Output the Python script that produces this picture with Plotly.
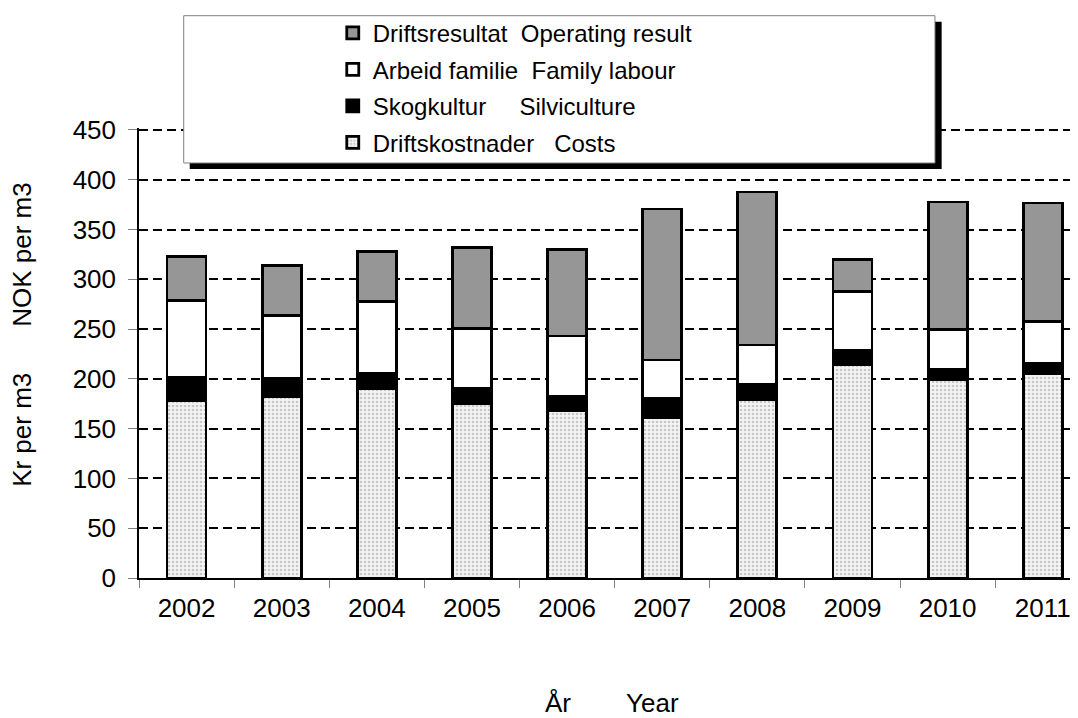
import plotly.graph_objects as go

years = ["2002", "2003", "2004", "2005", "2006", "2007", "2008", "2009", "2010", "2011"]

# NOK per m3, stacked from bottom
costs = [178, 182, 190, 175, 168, 161, 179, 214.5, 199, 205]
silviculture = [23.5, 18, 15.5, 15.5, 14.5, 19, 15.5, 14.5, 11, 11]
family_labour = [77.5, 64, 72.5, 60, 60.5, 39, 39.5, 58.5, 39.5, 41.7]
operating_result = [44, 50, 50, 81.5, 87, 151.6, 153.7, 32.5, 128.2, 119]

FONT = "Arial, Liberation Sans, sans-serif"

OFF = 8  # the page body has an 8px margin
YMAX = 452
# plot area in page pixels
L, R, B = 139.3, 1078, 578.3
T = B - YMAX * 448 / 450
W, H = R - L, B - T


def px(x):
    return (x - L) / W


def py(y):
    return (B - y) / H


line = dict(color="black", width=2.8)

fig = go.Figure()
fig.add_trace(go.Bar(
    x=years, y=costs, name="Driftskostnader   Costs",
    legendgroup="a", legendrank=4,
    marker=dict(color="#f2f2f2", line=line,
                pattern=dict(shape=".", fgcolor="#9a9a9a", bgcolor="#f4f4f4",
                             size=4, solidity=0.35)),
))
fig.add_trace(go.Bar(
    x=years, y=silviculture, name="Skogkultur     Silviculture",
    legendgroup="b", legendrank=3,
    marker=dict(color="black", line=line),
))
fig.add_trace(go.Bar(
    x=years, y=family_labour, name="Arbeid familie  Family labour",
    legendgroup="c", legendrank=2,
    marker=dict(color="white", line=line),
))
fig.add_trace(go.Bar(
    x=years, y=operating_result, name="Driftsresultat  Operating result",
    legendgroup="d", legendrank=1,
    marker=dict(color="#969696", line=line),
))

# legend frame with drop shadow
fig.add_shape(type="rect", xref="paper", yref="paper",
              x0=px(190), x1=px(941.7), y0=py(169.3), y1=py(22),
              fillcolor="black", line=dict(width=0), layer="above")
fig.add_shape(type="rect", xref="paper", yref="paper",
              x0=px(184), x1=px(935), y0=py(163.3), y1=py(16),
              fillcolor="white", line=dict(color="#808080", width=1), layer="above")

# axis titles
axis_font = dict(size=26, color="black", family=FONT)
for txt, x, y, ang in [("Kr per m3", 23, 430.5, -90), ("NOK per m3", 23, 254.5, -90),
                       ("År", 558, 703, 0), ("Year", 652.5, 703, 0)]:
    fig.add_annotation(x=px(x), y=py(y), xref="paper", yref="paper",
                       xanchor="center", yanchor="middle",
                       text=txt, textangle=ang, showarrow=False, font=axis_font)

fig.update_layout(
    width=1078 - OFF, height=718 - OFF,
    margin=dict(l=L - OFF, r=0, t=T - OFF, b=718 - B),
    paper_bgcolor="white", plot_bgcolor="white",
    barmode="stack", bargap=0.59,
    font=dict(family=FONT, size=26, color="black"),
    showlegend=True,
    legend=dict(
        x=px(333), y=py(11), xanchor="left", yanchor="top",
        traceorder="grouped", bgcolor="rgba(0,0,0,0)",
        font=dict(size=24, color="black", family=FONT),
        itemwidth=30, tracegroupgap=2.3,
    ),
)
fig.update_xaxes(
    range=[-0.5, -0.5 + W / 95.1],
    showline=True, linecolor="black", linewidth=1.5,
    ticks="outside", tickson="boundaries", ticklen=8, tickcolor="#808080",
    showgrid=False, ticklabelstandoff=6,
)
fig.update_yaxes(
    range=[0, YMAX], tickvals=list(range(0, 451, 50)),
    showline=True, linecolor="black", linewidth=1.5,
    ticks="outside", ticklen=9, tickcolor="#808080",
    showgrid=True, gridcolor="black", gridwidth=2, griddash="9px,5px",
    zeroline=False, ticklabelstandoff=7,
)

fig.write_html("out.html")
